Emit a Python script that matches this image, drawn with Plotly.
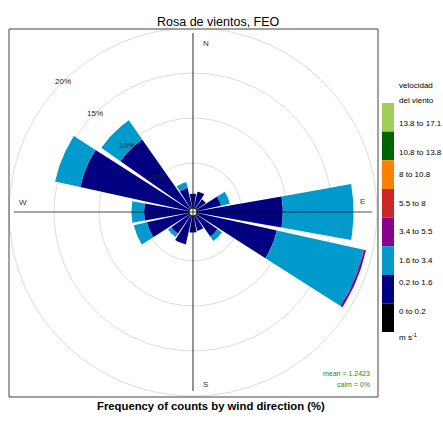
"""Wind rose (openair style) for FEO, drawn with filled polygons on square cartesian axes."""

import numpy as np
import plotly.graph_objects as go

# ---- data -------------------------------------------------------------
directions = ["N", "NNE", "NE", "ENE", "E", "ESE", "SE", "SSE",
              "S", "SSW", "SW", "WSW", "W", "WNW", "NW", "NNW"]
dir_degrees = [0, 22.5, 45, 67.5, 90, 112.5, 135, 157.5,
               180, 202.5, 225, 247.5, 270, 292.5, 315, 337.5]

speed_bins = ["0 to 0.2", "0.2 to 1.6", "1.6 to 3.4", "3.4 to 5.5",
              "5.5 to 8", "8 to 10.8", "10.8 to 13.8", "13.8 to 17.1"]
bin_colors = ["#000000", "#000080", "#009ACD", "#8B008B",
              "#CD2626", "#FF7F00", "#006400", "#A2CD5A"]

# frequency (%) of each speed class per direction
freq_0_02 = [0.15] * 16
freq_02_16 = [1.45, 1.75, 1.15, 2.6, 9.4, 8.95, 2.75, 1.55,
              1.7, 3.1, 2.35, 4.65, 4.85, 12.25, 9.25, 2.15]
freq_16_34 = [0, 0, 0, 1.0, 7.85, 9.9, 0.6, 0,
              0, 0, 0.45, 1.5, 1.4, 2.86, 2.6, 0.65]
freq_34_55 = [0, 0, 0, 0, 0, 0.25, 0, 0,
              0, 0, 0, 0, 0, 0, 0, 0]
freq_55_8 = [0] * 16
freq_8_108 = [0] * 16
freq_108_138 = [0] * 16
freq_138_171 = [0] * 16

grid_pcts = [5, 10, 15, 20]
mean_speed = 1.2423
calm_pct = 0

# ---- geometry ---------------------------------------------------------
W, H = 443, 428
L, R, T, B = 9, 65, 29, 31
PW, PH = W - L - R, H - T - B
HOLE = 0.44          # centre hole, in % units
HALF = 10            # half width of each wedge, degrees

freqs = [freq_0_02, freq_02_16, freq_16_34, freq_34_55,
         freq_55_8, freq_8_108, freq_108_138, freq_138_171]


def px_x(p):
    # window pixel -> paper x
    return (p - L) / PW


def px_y(p):
    # window pixel -> paper y
    return (T + PH - p) / PH


def wedge(deg, r0, r1):
    th = np.radians(np.linspace(deg - HALF, deg + HALF, 30))
    xs = list(r1 * np.sin(th)) + list(r0 * np.sin(th[::-1]))
    ys = list(r1 * np.cos(th)) + list(r0 * np.cos(th[::-1]))
    return xs + [xs[0], None], ys + [ys[0], None]


fig = go.Figure()

# grid circles
t = np.linspace(0, 2 * np.pi, 361)
for p in grid_pcts:
    r = HOLE + p
    fig.add_trace(go.Scatter(x=r * np.cos(t), y=r * np.sin(t), mode="lines",
                             line=dict(color="#dcdcdc", width=1),
                             hoverinfo="skip", showlegend=False))

# stacked wedges
cum = np.zeros(len(directions))
for name, col, f in zip(speed_bins, bin_colors, freqs):
    xs, ys = [], []
    for i, d in enumerate(dir_degrees):
        if f[i] > 0:
            wx, wy = wedge(d, HOLE + cum[i], HOLE + cum[i] + f[i])
            xs += wx
            ys += wy
    cum += np.array(f)
    if xs:
        fig.add_trace(go.Scatter(x=xs, y=ys, mode="lines", fill="toself",
                                 fillcolor=col, line=dict(width=0, color=col),
                                 name=name, hoverinfo="name", showlegend=False))

# centre hole
fig.add_trace(go.Scatter(x=HOLE * np.cos(t), y=HOLE * np.sin(t), mode="lines",
                         fill="toself", fillcolor="white",
                         line=dict(color="#222222", width=1),
                         hoverinfo="skip", showlegend=False))

# crosshair
ax_len = 19.9
fig.add_trace(go.Scatter(x=[-ax_len, ax_len, None, 0, 0], y=[0, 0, None, -ax_len, ax_len],
                         mode="lines", line=dict(color="rgba(0,0,0,0.7)", width=1.2),
                         hoverinfo="skip", showlegend=False))

annotations = []
# compass labels
for txt, x, y in [("N", 1.44, 18.7), ("E", 18.8, 1.2), ("S", 1.44, -19.2), ("W", -18.9, 1.1)]:
    annotations.append(dict(x=x, y=y, text=txt, showarrow=False,
                            font=dict(size=8, color="#333333")))
# percentage labels on the NW diagonal
for p in grid_pcts:
    r = HOLE + p
    annotations.append(dict(x=-r * np.sqrt(0.5), y=r * np.sqrt(0.5), text=f"{p}%",
                            showarrow=False, font=dict(size=8, color="#222222")))

# stats
annotations.append(dict(x=px_x(372), y=px_y(379), xref="paper", yref="paper",
                        text=f"mean = {mean_speed}", showarrow=False, xanchor="right",
                        font=dict(size=7, color="#228B22")))
annotations.append(dict(x=px_x(372), y=px_y(390), xref="paper", yref="paper",
                        text=f"calm = {calm_pct}%", showarrow=False, xanchor="right",
                        font=dict(size=7, color="#228B22")))

# title and caption
annotations.append(dict(x=px_x(218), y=px_y(13), xref="paper", yref="paper",
                        text="Rosa de vientos, FEO", showarrow=False,
                        font=dict(size=12.5, color="#000000")))
annotations.append(dict(x=px_x(211), y=px_y(414), xref="paper", yref="paper",
                        text="<b>Frequency of counts by wind direction (%)</b>",
                        showarrow=False, font=dict(size=11.3, color="#000000")))

# key (speed classes), drawn top-down from fastest to slowest
shapes = [dict(type="rect", xref="paper", yref="paper", x0=0, x1=1, y0=0, y1=1,
               line=dict(color="#444444", width=1))]
key_top, key_bot = 103, 332
step = (key_bot - key_top) / len(speed_bins)
for k, (name, col) in enumerate(zip(speed_bins[::-1], bin_colors[::-1])):
    y0 = key_top + k * step
    shapes.append(dict(type="rect", xref="paper", yref="paper",
                       x0=px_x(382), x1=px_x(394), y0=px_y(y0 + step), y1=px_y(y0),
                       fillcolor=col, line=dict(width=0)))
    annotations.append(dict(x=px_x(397), y=px_y(y0 + step / 2), xref="paper", yref="paper",
                            text=name, showarrow=False, xanchor="left",
                            font=dict(size=8, color="#000000")))
annotations.append(dict(x=px_x(397), y=px_y(79), xref="paper", yref="paper",
                        text="velocidad", showarrow=False, xanchor="left",
                        font=dict(size=8, color="#000000")))
annotations.append(dict(x=px_x(397), y=px_y(94), xref="paper", yref="paper",
                        text="del viento", showarrow=False, xanchor="left",
                        font=dict(size=8, color="#000000")))
annotations.append(dict(x=px_x(397), y=px_y(344), xref="paper", yref="paper",
                        text="m s<sup>-1</sup>", showarrow=False, xanchor="left",
                        font=dict(size=8, color="#000000")))

fig.update_layout(
    width=W, height=H,
    margin=dict(l=L, r=R, t=T, b=B, autoexpand=False),
    paper_bgcolor="white", plot_bgcolor="white",
    font=dict(family="Liberation Sans, Arial, sans-serif"),
    xaxis=dict(range=[-184 / 9, 185 / 9], visible=False, fixedrange=True),
    yaxis=dict(range=[-185 / 9, 183 / 9], visible=False, fixedrange=True),
    showlegend=False,
    shapes=shapes,
    annotations=annotations,
)

# drop the default page margin so the figure fills the 443x428 window
fig.write_html("out.html", config={"displayModeBar": False},
               post_script="document.body.style.margin='0';document.body.style.overflow='hidden';")
